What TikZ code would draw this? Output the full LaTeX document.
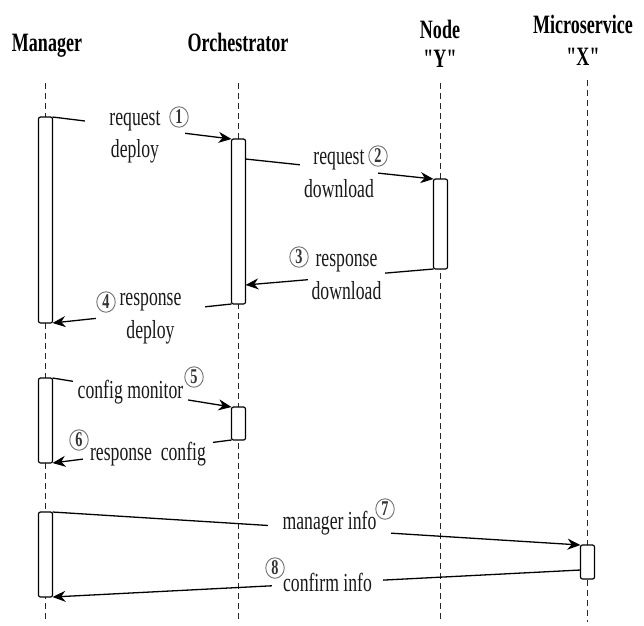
\documentclass[tikz,border=0pt]{standalone}
\usepackage{fontspec}
\setmainfont{Liberation Serif}[FakeStretch=0.68]
\usetikzlibrary{arrows.meta,shapes.geometric}

% quoted name with straight double quotes (TeX quote mapping switched off)
\newcommand{\quoted}[1]{{\addfontfeature{Ligatures=TeXOff}"#1"}}

\tikzset{
  lifeline/.style={draw=black!85, line width=0.8pt, dash pattern=on 6pt off 4pt},
  actbox/.style={draw=black, fill=white, line width=1.2pt, rounded corners=2pt,
    minimum width=14pt, inner sep=0pt, outer sep=0pt},
  msg/.style={draw=black, line width=1.3pt, -{Stealth[length=13pt,width=11pt]}},
  title/.style={font=\fontsize{26.5}{29}\selectfont\bfseries, align=center, inner sep=0pt},
  lbl/.style={fill=white, inner sep=1pt, align=center, text=black!90,
    font=\fontsize{26}{32.5}\selectfont},
  num/.style={ellipse, draw=black!55, line width=0.9pt, fill=white, inner sep=0pt,
    minimum width=18.5pt, minimum height=20.5pt, text=black!80,
    font=\fontsize{21}{21}\selectfont\bfseries}
}

\begin{document}
\begin{tikzpicture}[x=1pt,y=-1pt]
\useasboundingbox (0,0) rectangle (644,625);

% participants
\node[title, anchor=base] (tMgr) at (47,51) {Manager};
\node[title, anchor=base] (tOrc) at (238,51) {Orchestrator};
\node[title] (tNode) at (440,43.5) {Node\\[0pt]\quoted{Y}};
\node[title] (tMs) at (583,40) {Microservice\\[3pt]\quoted{X}};

% lifelines
\coordinate (mTop) at (45.5,83);  \coordinate (mBot) at (45.5,622);
\coordinate (oTop) at (238.5,83); \coordinate (oBot) at (238.5,622);
\coordinate (nTop) at (440.5,83); \coordinate (nBot) at (440.5,622);
\coordinate (xTop) at (587.5,80); \coordinate (xBot) at (587.5,622);
\draw[lifeline] (mTop) -- (mBot);
\draw[lifeline] (oTop) -- (oBot);
\draw[lifeline] (nTop) -- (nBot);
\draw[lifeline] (xTop) -- (xBot);

% activation bars
\node[actbox, minimum height=206pt] (m1) at (45.5,220) {};
\node[actbox, minimum height=165pt] (o1) at (238.5,221.5) {};
\node[actbox, minimum height=90pt]  (n1) at (440.5,224) {};
\node[actbox, minimum height=85pt]  (m2) at (45.5,420.5) {};
\node[actbox, minimum height=33pt]  (o2) at (238.5,423.5) {};
\node[actbox, minimum height=85pt]  (m3) at (45.5,554.5) {};
\node[actbox, minimum height=34pt]  (x1) at (587.5,562) {};

% messages
\draw[msg] (m1.north east) -- (o1.north west);
\draw[msg] ([yshift=-20pt]o1.north east) -- (n1.north west);
\draw[msg] (n1.south west) -- ([yshift=19pt]o1.south east);
\draw[msg] (o1.south west) -- (m1.south east);
\draw[msg] (m2.north east) -- (o2.north west);
\draw[msg] (o2.south west) -- (m2.south east);
\draw[msg] (m3.north east) -- (x1.north west);
\draw[msg] ([yshift=9pt]x1.south west) -- (m3.south east);

% message labels
\node[lbl, minimum width=100pt] (l1) at (135,137) {request\\deploy};
\node[lbl, minimum width=78pt]  (l2) at (339,174) {request\\download};
\node[lbl, minimum width=77pt]  (l3) at (346.5,277) {response\\download};
\node[lbl, minimum width=109pt] (l4) at (150.5,318.5) {response\\deploy};
\node[lbl, minimum width=115pt] (l5) at (130.5,392) {config monitor};
\node[lbl, minimum width=130pt] (l6) at (148,454) {response~~config};
\node[lbl, minimum width=123pt] (l7) at (329.5,523) {manager info};
\node[lbl, minimum width=111pt] (l8) at (327.5,582) {confirm info};

% step numbers
\node[num] (s1) at (179,117) {1};
\node[num] (s2) at (378,156) {2};
\node[num] (s3) at (299,257) {3};
\node[num] (s4) at (106,302) {4};
\node[num] (s5) at (194,377) {5};
\node[num] (s6) at (79,440) {6};
\node[num] (s7) at (385,509) {7};
\node[num] (s8) at (275,568) {8};
\end{tikzpicture}
\end{document}
